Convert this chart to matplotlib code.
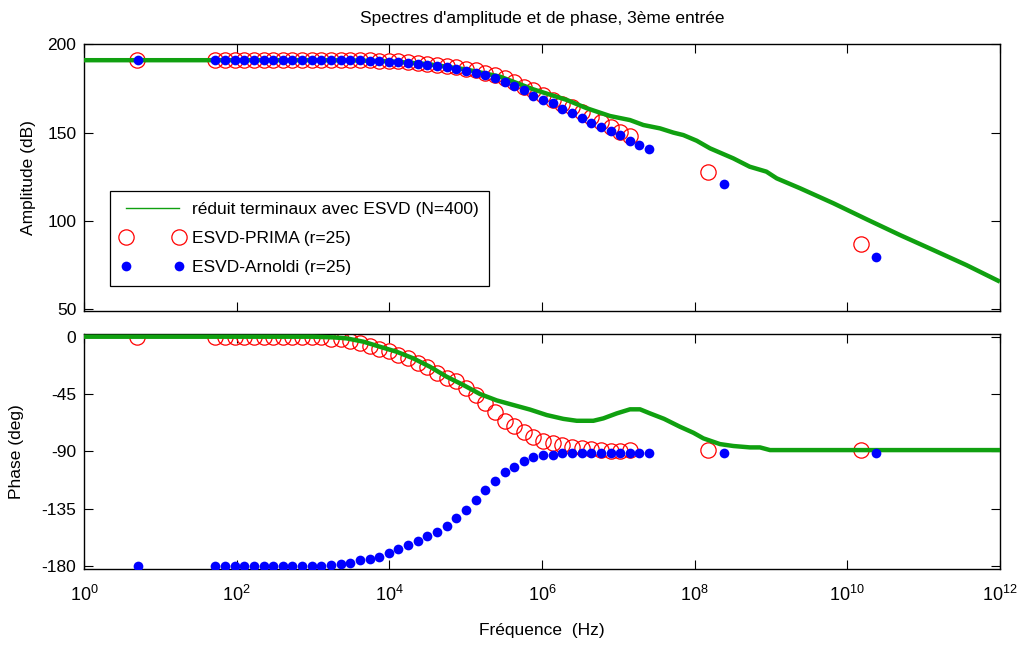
import numpy as np
import matplotlib
matplotlib.use('Agg')
import matplotlib.pyplot as plt
from matplotlib.lines import Line2D
from matplotlib.ticker import FixedLocator, FixedFormatter, NullLocator

plt.rcParams['font.family'] = ['Liberation Sans', 'DejaVu Sans']
plt.rcParams['mathtext.default'] = 'regular'
plt.rcParams['axes.unicode_minus'] = False

# ---------------- data ----------------
# sample frequencies, as log10(f)
seq_exp = [1.720, 1.846, 1.973, 2.099, 2.225, 2.352, 2.478, 2.604, 2.730, 2.857,
           2.983, 3.109, 3.236, 3.362, 3.488, 3.615, 3.741, 3.867, 3.993, 4.120,
           4.246, 4.372, 4.499, 4.625, 4.751, 4.878, 5.004, 5.130, 5.256, 5.383,
           5.509, 5.635, 5.762, 5.888, 6.014, 6.141, 6.267, 6.393, 6.520, 6.646,
           6.772, 6.898, 7.025, 7.151, 7.277, 7.404]
blue_exp = [0.71] + seq_exp + [8.38, 10.38]
red_exp = [0.70] + seq_exp[:44] + [8.18, 10.18]

amp_blue = [191.0] + [191.0] * 15 + [190.9, 190.7, 190.4, 190.0, 189.8, 189.2, 188.8, 188.3,
            187.9, 187.0, 185.8, 185.1, 183.6, 182.6, 180.7, 178.5, 176.4, 174.1, 170.7,
            168.5, 166.6, 163.2, 160.9, 158.4, 155.2, 153.0, 150.9, 148.6, 145.4, 143.0,
            140.9] + [120.7, 79.5]
amp_red = [191.0] + [191.0] * 16 + [190.9, 190.8, 190.6, 190.3, 189.8, 189.4, 189.0, 188.5,
           187.8, 187.0, 186.2, 185.2, 184.0, 182.5, 181.0, 178.8, 176.0, 174.1, 171.3,
           168.5, 166.2, 164.3, 161.8, 158.7, 156.2, 153.0, 150.5, 148.1] + [127.9, 86.7]

ph_blue = [-180.0] + [-180.0] * 12 + [-179.3, -178.8, -177.5, -175.6, -174.2, -172.6, -169.8,
           -166.8, -163.6, -160.7, -156.1, -153.1, -148.5, -142.3, -136.1, -128.2, -120.4,
           -113.1, -106.6, -102.1, -97.6, -94.2, -92.9, -92.9, -91.1] + [-91.1] * 9 + [-91.1, -91.1]
ph_red = [0.0] + [0.0] * 12 + [-1.5, -1.6, -3.5, -5.2, -7.5, -9.8, -11.1, -14.1, -16.5, -20.9,
          -24.0, -28.7, -32.2, -34.8, -39.9, -45.8, -52.3, -59.0, -65.8, -70.4, -75.0, -78.9,
          -81.5, -83.7, -85.0, -86.8, -87.7, -88.3, -89.0, -89.6, -89.6, -89.2] + [-89.0, -89.0]

# reference model curve (N=400)
amp_line_exp = [0.0, 3.0, 3.5, 4.0, 4.5, 5.0, 5.45, 5.886, 6.324, 6.586, 6.891, 7.153, 7.328,
                7.546, 7.721, 7.852, 8.027, 8.201, 8.507, 8.721, 8.94, 9.075, 9.38, 9.817,
                10.254, 10.69, 11.127, 11.56, 12.0]
amp_line = [191.0, 191.0, 190.9, 190.4, 188.8, 185.8, 181.7, 174.5, 168.5, 163.8, 159.4, 157.1,
            154.3, 152.4, 150.0, 148.6, 145.4, 141.1, 135.4, 130.7, 127.9, 124.1, 118.5, 110.0,
            100.9, 92.0, 83.5, 75.0, 65.6]
ph_line_exp = [0.0, 3.0, 3.266, 3.44, 3.66, 3.878, 4.096, 4.314, 4.533, 4.751, 4.969, 5.188,
               5.407, 5.624, 5.843, 6.062, 6.28, 6.455, 6.673, 6.804, 6.979, 7.153, 7.284,
               7.415, 7.6, 7.808, 7.983, 8.114, 8.332, 8.507, 8.725, 8.856, 8.987, 12.0]
ph_line = [0.0, 0.0, -0.5, -1.3, -3.9, -7.9, -11.8, -17.0, -23.6, -31.4, -37.9, -45.0, -50.0,
           -53.6, -57.2, -61.5, -64.5, -66.0, -66.0, -64.1, -60.2, -57.0, -57.0, -60.2, -64.5,
           -70.7, -75.4, -79.8, -84.3, -85.8, -86.9, -86.9, -89.0, -89.0]

xticks = [1e0, 1e2, 1e4, 1e6, 1e8, 1e10, 1e12]
xticklabels = [r'$\mathregular{10^{%d}}$' % k for k in [0, 2, 4, 6, 8, 10, 12]]
amp_ticks = [50, 100, 150, 200]
ph_ticks = [-180, -135, -90, -45, 0]

title = "Spectres d'amplitude et de phase, 3ème entrée"
labels = ['réduit terminaux avec ESVD (N=400)', 'ESVD-PRIMA (r=25)', 'ESVD-Arnoldi (r=25)']

GREEN = '#10a010'
RED = '#ff0000'
BLUE = '#0000ff'
FS = 12.5

# ---------------- figure ----------------
fig = plt.figure(figsize=(10.24, 6.5), dpi=100)
W, H = 1024.0, 650.0
ax1 = fig.add_axes([84 / W, 1 - 311 / H, 916 / W, (311 - 44.3) / H])
ax2 = fig.add_axes([84 / W, 1 - 569.3 / H, 916 / W, (569.3 - 334.3) / H])

fb = 10 ** np.array(blue_exp)
fr = 10 ** np.array(red_exp)

for ax, ylab, yr, yb, lx, ly, ticks, lim in [
        (ax1, 'Amplitude (dB)', amp_red, amp_blue, amp_line_exp, amp_line, amp_ticks, (49.0, 200.0)),
        (ax2, 'Phase (deg)', ph_red, ph_blue, ph_line_exp, ph_line, ph_ticks, (-182.6, 1.9))]:
    ax.plot(fr, yr, linestyle='none', marker='o', ms=11, mfc='none',
            mec=RED, mew=0.9, zorder=2)
    ax.plot(10 ** np.array(lx), ly, color=GREEN, lw=3.2, zorder=3, solid_capstyle='butt')
    ax.plot(fb, yb, linestyle='none', marker='o', ms=7, mfc=BLUE, mec=BLUE, mew=0, zorder=4)
    ax.set_xscale('log')
    ax.set_xlim(1, 1e12)
    ax.set_ylim(*lim)
    ax.xaxis.set_major_locator(FixedLocator(xticks))
    ax.xaxis.set_minor_locator(NullLocator())
    ax.set_yticks(ticks)
    ax.set_ylabel(ylab, fontsize=FS)
    ax.tick_params(axis='both', which='major', direction='in', length=6.5, width=0.8,
                   top=True, right=True, labelsize=FS, pad=5.5)
    for s in ax.spines.values():
        s.set_linewidth(1.0)

ax1.xaxis.set_major_formatter(FixedFormatter([''] * len(xticks)))
ax2.xaxis.set_major_formatter(FixedFormatter(xticklabels))
ax2.tick_params(axis='x', pad=11, labelsize=13)
ax1.yaxis.set_label_coords(-0.052, 0.5)
ax2.yaxis.set_label_coords(-0.065, 0.5)
ax2.set_xlabel('Fréquence  (Hz)', fontsize=FS)
ax2.xaxis.set_label_coords(0.5, -0.23)
ax1.set_title(title, fontsize=FS, pad=15)

handles = [Line2D([], [], color=GREEN, lw=1.0),
           Line2D([], [], linestyle='none', marker='o', ms=11, mfc='none', mec=RED, mew=0.9),
           Line2D([], [], linestyle='none', marker='o', ms=7, mfc=BLUE, mec=BLUE, mew=0)]
leg = ax1.legend(handles, labels, loc='lower left', bbox_to_anchor=(0.028, 0.094, 0.414, 0.406),
                 mode='expand', borderaxespad=0, numpoints=2, handlelength=3.7,
                 handletextpad=0.4, labelspacing=0.8, borderpad=0.62, fontsize=FS,
                 fancybox=False, framealpha=1, edgecolor='black')
leg.get_frame().set_linewidth(0.9)

fig.savefig('out.png', dpi=100)
